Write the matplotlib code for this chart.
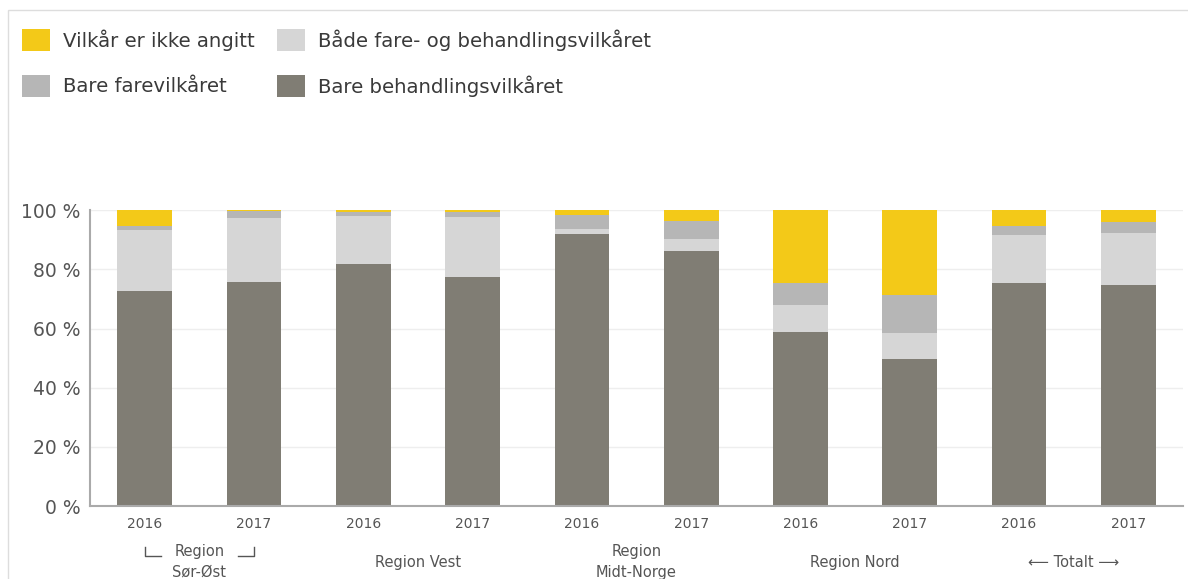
import matplotlib
matplotlib.use("Agg")
import matplotlib.pyplot as plt
from matplotlib.patches import Rectangle
import numpy as np

plt.rcParams['font.family'] = ['DejaVu Sans']

years = ['2016', '2017'] * 5
groups = ['Region\nSør-Øst', 'Region Vest', 'Region\nMidt-Norge', 'Region Nord', 'Totalt']
# andel i prosent, nederst -> øverst
behandling = [72.6, 75.8, 81.9, 77.5, 92.1, 86.2, 58.7, 49.7, 75.4, 74.6]
begge = [20.6, 21.4, 16.1, 20.3, 1.4, 3.9, 9.1, 8.7, 16.1, 17.7]
fare = [1.4, 2.5, 1.4, 1.5, 4.8, 6.3, 7.6, 12.8, 3.1, 3.7]
ikke_angitt = [5.4, 0.3, 0.6, 0.7, 1.7, 3.6, 24.6, 28.8, 5.4, 4.0]

c_yellow = '#F3C918'
c_light = '#D6D6D6'
c_mid = '#B6B6B6'
c_dark = '#807D74'
c_txt = '#555555'

W, H = 1188, 579
fig = plt.figure(figsize=(W / 100, H / 100), dpi=100)
ax = fig.add_axes([0.0758, 0.126, 0.92, 0.511])

x = np.arange(len(years))
w = 0.5
b = np.zeros(len(x))
for vals, col in [(behandling, c_dark), (begge, c_light), (fare, c_mid), (ikke_angitt, c_yellow)]:
    ax.bar(x, vals, w, bottom=b, color=col, zorder=2)
    b += np.array(vals)

ax.set_ylim(0, 100)
ax.set_xlim(-0.5, 9.5)
ax.set_yticks([0, 20, 40, 60, 80, 100])
ax.set_yticklabels([f'{v} %' for v in [0, 20, 40, 60, 80, 100]], fontsize=13.5, color=c_txt)
ax.set_xticks(x)
ax.set_xticklabels(years, fontsize=10, color=c_txt)
ax.tick_params(length=0, pad=8)
ax.tick_params(axis='y', pad=7)
ax.grid(axis='y', color='#EEEEEE', lw=1, zorder=0)
for s in ['top', 'right']:
    ax.spines[s].set_visible(False)
ax.spines['left'].set_color('#AAAAAA')
ax.spines['bottom'].set_color('#AAAAAA')
ax.spines['left'].set_linewidth(1.5)
ax.spines['bottom'].set_linewidth(1.5)

# gruppetekster under årstallene
fs_g = 10.5
for i, g in enumerate(groups):
    xc = 2 * i + 0.5
    if g == 'Totalt':
        ax.text(xc, -19, '⟵ Totalt ⟶', ha='center', va='center', fontsize=fs_g,
                color=c_txt, clip_on=False)
    elif '\n' in g:
        l1, l2 = g.split('\n')
        ax.text(xc, -15.2, l1, ha='center', va='center', fontsize=fs_g, color=c_txt, clip_on=False)
        ax.text(xc, -22.3, l2, ha='center', va='center', fontsize=fs_g, color=c_txt, clip_on=False)
    else:
        ax.text(xc, -19, g, ha='center', va='center', fontsize=fs_g, color=c_txt, clip_on=False)

# små hakeparenteser rundt "Region" (Sør-Øst)
ax.plot([0.0, 0.0, 0.15], [-14.0, -17.0, -17.0], color=c_txt, lw=1, clip_on=False)
ax.plot([0.85, 1.0, 1.0], [-17.0, -17.0, -14.0], color=c_txt, lw=1, clip_on=False)

# tegnforklaring (to rader)
legend_items = [
    ('Vilkår er ikke angitt', c_yellow, 22, 40),
    ('Både fare- og behandlingsvilkåret', c_light, 277, 40),
    ('Bare farevilkåret', c_mid, 22, 86),
    ('Bare behandlingsvilkåret', c_dark, 277, 86),
]
for lab, col, px, py in legend_items:
    fig.add_artist(Rectangle((px / W, 1 - (py + 11) / H), 28 / W, 22 / H,
                             transform=fig.transFigure, color=col, lw=0))
    fig.text((px + 41) / W, 1 - (py - 2) / H, lab, fontsize=14.2, color='#3A3A3A',
             ha='left', va='center_baseline')

fig.add_artist(Rectangle((8 / W, -0.1), 1.2, 1.1 - 10 / H, transform=fig.transFigure,
                         fill=False, edgecolor='#DDDDDD', lw=1))

fig.savefig('out.png', dpi=100)
